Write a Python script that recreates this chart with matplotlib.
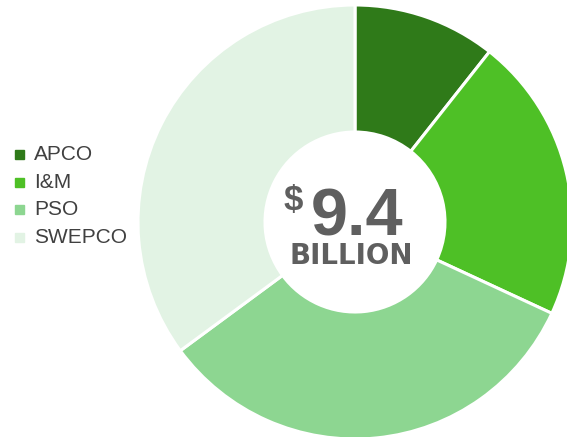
#Importing necessary libraries
import matplotlib
matplotlib.use("Agg")
from matplotlib import pyplot as plt
from matplotlib.patches import Rectangle

#Data for the donut (billions of dollars)
companies = ["APCO", "I&M", "PSO", "SWEPCO"]
amounts = [1.0, 2.0, 3.1, 3.3]
colors = ["#2f7a19", "#4ec026", "#8dd691", "#e2f3e4"]
total_label = "9.4"

#Figure in pixel units so the layout is easy to place
fig = plt.figure(figsize=(5.67, 4.37), dpi=100)
ax = fig.add_axes([0, 0, 1, 1])

cx, cy = 355, 437 - 222
r_out = 217
r_in = 90

ax.pie(amounts, colors=colors, startangle=90, counterclock=False,
       center=(cx, cy), radius=r_out, frame=True,
       wedgeprops=dict(width=r_out - r_in, edgecolor="white", linewidth=2.2))
ax.set_xlim(0, 567)
ax.set_ylim(0, 437)
ax.set_aspect("equal")
ax.axis("off")

#Centre text
grey = "#5f5f5f"
ax.text(293.5, 437 - 184, "$", ha="center", va="top", fontsize=25,
        fontweight="bold", color=grey, family="Liberation Sans")
ax.text(311, 437 - 235, total_label, ha="left", va="baseline", fontsize=48,
        fontweight="bold", color=grey, family="Liberation Sans")
ax.text(351, 437 - 264, "BILLION", ha="center", va="baseline", fontsize=20,
        fontweight="bold", color=grey, family="DejaVu Sans")

#Legend drawn by hand on the left
for i in range(len(companies)):
    yc = 437 - (154.5 + i * 27.7)
    ax.add_patch(Rectangle((15, yc - 4.5), 9, 9, color=colors[i]))
    ax.text(34, yc, companies[i], ha="left", va="center", fontsize=15,
            color="#404040", family="Liberation Sans")

fig.savefig("out.png", dpi=100)
